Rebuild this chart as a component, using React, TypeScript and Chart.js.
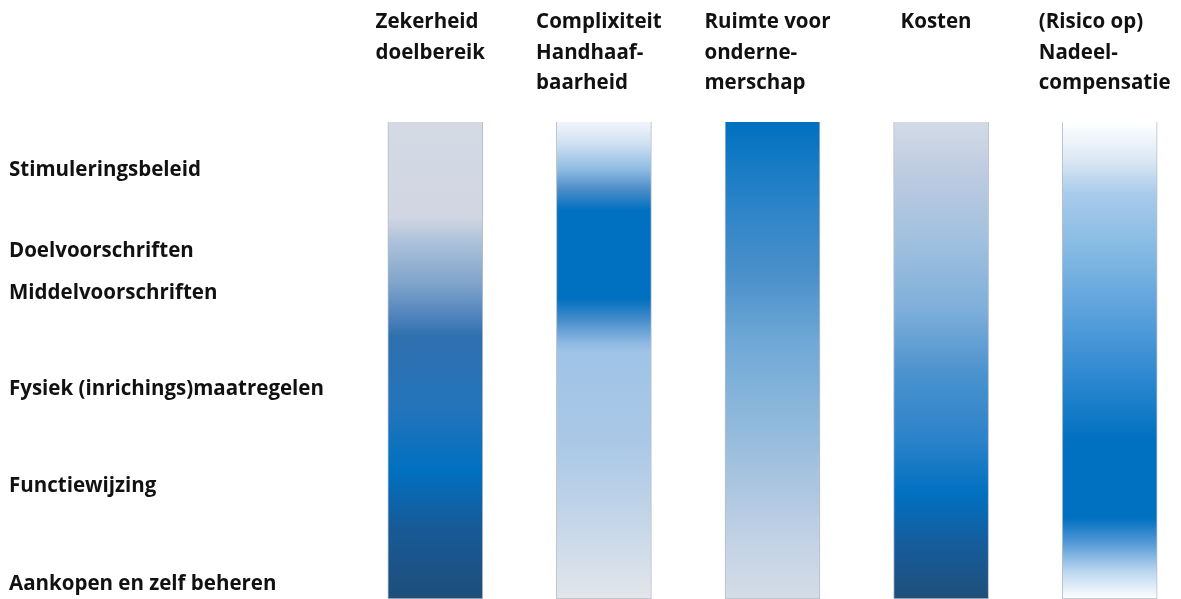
import React, { useEffect, useRef } from "react";
import { Chart, registerables } from "chart.js";

Chart.register(...registerables);

// Column headers (criteria)
const columns = [
  ["Zekerheid", "doelbereik"],
  ["Complixiteit", "Handhaaf-", "baarheid"],
  ["Ruimte voor", "onderne-", "merschap"],
  ["Kosten"],
  ["(Risico op)", "Nadeel-", "compensatie"],
];

// Instruments along the vertical scale (0 = top, 100 = bottom)
const rowLabels = [
  "Stimuleringsbeleid",
  "Doelvoorschriften",
  "Middelvoorschriften",
  "Fysiek (inrichings)maatregelen",
  "Functiewijzing",
  "Aankopen en zelf beheren",
];
const rowPositions = [10.2, 27.0, 35.9, 56.1, 76.4, 96.8];

// Each column spans the full scale
const barRanges = [
  [0, 100],
  [0, 100],
  [0, 100],
  [0, 100],
  [0, 100],
];

// Colour intensity along the scale for each column: [scale position, colour]
const zekerheidStops = [
  [0, "#d3dae4"], [20, "#d1d6e2"], [25, "#adc2da"], [34, "#7fa3cb"], [41, "#4d82bc"],
  [45, "#2f6fae"], [60, "#2474bb"], [73, "#0070c0"], [85, "#175a98"], [100, "#1f4e79"],
];
const complexiteitStops = [
  [0, "#f2f6fb"], [4.5, "#cfe0f2"], [10, "#8dbbe2"], [14, "#4f8ec9"], [18.5, "#0070c0"],
  [37, "#0070c0"], [41, "#3e89c8"], [46, "#8ab6e0"], [48, "#9fc3e6"], [67, "#aac8e6"],
  [81, "#c0d3e8"], [100, "#e3e6ea"],
];
const ruimteStops = [
  [0, "#0070c0"], [18.5, "#2e85c8"], [32, "#4b90c9"], [46, "#6fa8d6"], [60, "#8ab6da"],
  [74, "#a7c3df"], [88, "#c3d2e5"], [100, "#d4dce6"],
];
const kostenStops = [
  [0, "#d2dae6"], [11.5, "#bccbe0"], [25, "#a0c0df"], [39, "#7fafda"], [53, "#4a92ce"],
  [67, "#2a82c9"], [78, "#0070c0"], [88, "#165d9e"], [100, "#1f4e79"],
];
const nadeelStops = [
  [0, "#ffffff"], [8, "#dbe8f4"], [15, "#a9cbeb"], [25, "#8bbde4"], [39, "#5ea3dc"],
  [53, "#2f89d0"], [67, "#0070c0"], [83, "#0070c0"], [88, "#4f97d5"], [94, "#b7d4ee"],
  [100, "#ffffff"],
];
const columnStops = [zekerheidStops, complexiteitStops, ruimteStops, kostenStops, nadeelStops];

const FONT = "'Open Sans', sans-serif";
const FONT_SIZE = 20.5;

export default function App() {
  const ref = useRef<HTMLCanvasElement | null>(null);

  useEffect(() => {
    if (!ref.current) return;

    const headerPlugin = {
      id: "headers",
      afterDraw(chart: any) {
        const ctx = chart.ctx;
        const xs = chart.scales.x;
        ctx.save();
        ctx.font = `bold ${FONT_SIZE}px ${FONT}`;
        ctx.fillStyle = "#111111";
        ctx.textAlign = "left";
        ctx.textBaseline = "alphabetic";
        columns.forEach((lines, i) => {
          const cx = xs.getPixelForValue(i);
          const w = Math.max(...lines.map((l) => ctx.measureText(l).width));
          const left = cx - w / 2 - 5;
          lines.forEach((line, k) => {
            ctx.fillText(line, left, 28 + k * 30.5);
          });
        });
        ctx.restore();
      },
    };

    const chart = new Chart(ref.current, {
      type: "bar",
      data: {
        labels: columns.map((c) => c.join(" ")),
        datasets: [
          {
            data: barRanges as any,
            barThickness: 95,
            borderWidth: 1,
            borderColor: "#b7bec6",
            borderSkipped: "bottom",
            backgroundColor: (c: any) => {
              const chart = c.chart;
              const ys = chart.scales.y;
              const stops = columnStops[c.dataIndex] || columnStops[0];
              if (!ys || !chart.chartArea) return stops[0][1] as string;
              const y0 = ys.getPixelForValue(0);
              const y1 = ys.getPixelForValue(100);
              const g = chart.ctx.createLinearGradient(0, y0, 0, y1);
              stops.forEach(([p, col]) => g.addColorStop((p as number) / 100, col as string));
              return g;
            },
          },
        ],
      },
      options: {
        animation: false,
        responsive: true,
        maintainAspectRatio: false,
        layout: { padding: { left: 9, right: 0, top: 122, bottom: 0 } },
        plugins: { legend: { display: false }, tooltip: { enabled: false } },
        scales: {
          x: {
            display: false,
            offset: true,
          },
          y: {
            type: "linear",
            reverse: true,
            min: 0,
            max: 100,
            border: { display: false },
            grid: { display: false },
            afterFit: (scale: any) => {
              scale.width = 342;
              scale.paddingTop = 0;
              scale.paddingBottom = 0;
            },
            afterBuildTicks: (scale: any) => {
              scale.ticks = rowPositions.map((v) => ({ value: v }));
            },
            ticks: {
              autoSkip: false,
              crossAlign: "far",
              color: "#111111",
              font: { family: FONT, size: FONT_SIZE, weight: "bold" },
              callback: (v: any) => {
                const idx = rowPositions.indexOf(Number(v));
                return idx >= 0 ? rowLabels[idx] : "";
              },
            },
          },
        },
      },
      plugins: [headerPlugin],
    });

    return () => chart.destroy();
  }, []);

  return (
    <div style={{ position: "absolute", left: 0, top: 0, width: 1181, height: 599, overflow: "hidden" }}>
      <div style={{ position: "relative", width: 1194, height: 599 }}>
        <canvas ref={ref} />
      </div>
    </div>
  );
}
